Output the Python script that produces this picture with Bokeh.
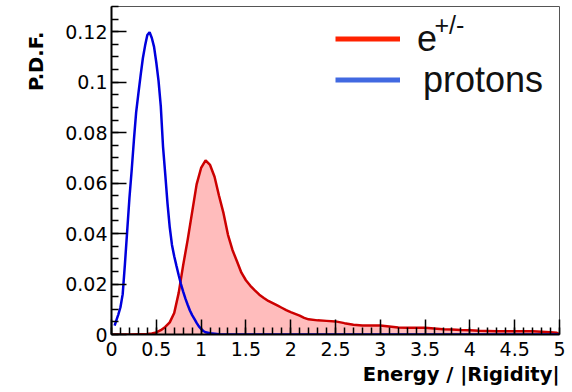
import math

from bokeh.plotting import figure
from bokeh.models import (Legend, LegendItem, Label, Title, FixedTicker,
                          CustomJSTickFormatter, Range1d)
from bokeh.embed import file_html
from bokeh.resources import INLINE

# Proton energy/|rigidity| distribution
proton_x = [0.035, 0.05, 0.075, 0.1, 0.125, 0.15, 0.175, 0.2, 0.225, 0.25,
            0.275, 0.3, 0.325, 0.35, 0.375, 0.4, 0.425, 0.45, 0.475, 0.5,
            0.525, 0.55, 0.575, 0.6, 0.625, 0.65, 0.675, 0.7, 0.725, 0.75,
            0.775, 0.8, 0.825, 0.85, 0.875, 0.9, 0.925, 0.95, 0.975, 1.0,
            1.025, 1.05, 1.1, 1.15, 1.2, 1.3, 2.0, 3.0, 4.0, 5.0]
proton_pdf = [0.0035, 0.0052, 0.0078, 0.0108, 0.016, 0.028, 0.041, 0.054, 0.065, 0.077,
              0.088, 0.0955, 0.1027, 0.1095, 0.1145, 0.1187, 0.1198, 0.1175, 0.114, 0.1078,
              0.1005, 0.0905, 0.0745, 0.0635, 0.052, 0.0425, 0.0355, 0.031, 0.0272, 0.0235,
              0.02, 0.017, 0.0142, 0.0118, 0.0095, 0.0077, 0.0062, 0.0046, 0.0032, 0.0022,
              0.0014, 0.0009, 0.0005, 0.0003, 0.0001, 0.0, 0.0, 0.0, 0.0, 0.0]

# Electron/positron energy/|rigidity| distribution
lepton_x = [0.0, 0.1, 0.2, 0.3, 0.4, 0.45, 0.5, 0.55, 0.6, 0.65,
            0.7, 0.75, 0.8, 0.85, 0.9, 0.95, 1.0, 1.05, 1.1, 1.15,
            1.2, 1.25, 1.3, 1.35, 1.4, 1.45, 1.5, 1.55, 1.6, 1.65,
            1.7, 1.75, 1.8, 1.85, 1.9, 1.95, 2.0, 2.05, 2.1, 2.15,
            2.2, 2.3, 2.4, 2.5, 2.6, 2.7, 2.8, 2.9, 3.0, 3.1,
            3.2, 3.3, 3.4, 3.5, 3.6, 3.7, 3.8, 3.9, 4.0, 4.1,
            4.2, 4.3, 4.5, 4.7, 4.8, 4.9, 4.97, 5.0]
lepton_pdf = [0.0, 0.0, 0.0, 0.0001, 0.0002, 0.0004, 0.0008, 0.0017, 0.003, 0.0048,
              0.0085, 0.0165, 0.0275, 0.0375, 0.0485, 0.0595, 0.066, 0.069, 0.0672, 0.0625,
              0.055, 0.0481, 0.0395, 0.0335, 0.029, 0.0245, 0.0215, 0.0193, 0.0175, 0.0158,
              0.0145, 0.0133, 0.0124, 0.0115, 0.0106, 0.0097, 0.0089, 0.0082, 0.0075, 0.0066,
              0.006, 0.0056, 0.0054, 0.0052, 0.0045, 0.0039, 0.0036, 0.0036, 0.0036, 0.0032,
              0.0028, 0.0027, 0.0027, 0.0027, 0.0024, 0.0021, 0.002, 0.0018, 0.0017, 0.0015,
              0.0014, 0.0013, 0.0013, 0.0013, 0.0011, 0.0009, 0.0007, 0.0]

# Axis ticks and their labels
x_ticks = [0, 0.5, 1, 1.5, 2, 2.5, 3, 3.5, 4, 4.5, 5]
x_tick_labels = ["0", "0.5", "1", "1.5", "2", "2.5", "3", "3.5", "4", "4.5", "5"]
y_ticks = [0, 0.02, 0.04, 0.06, 0.08, 0.1, 0.12]
y_tick_labels = ["0", "0.02", "0.04", "0.06", "0.08", "0.1", "0.12"]
x_minor = [round(i * 0.1, 1) for i in range(51)]
y_minor = [round(i * 0.005, 3) for i in range(27)]

legend_labels = ["e", "protons"]
x_title = "Energy / |Rigidity|"
y_title = "P.D.F."

p = figure(width=572, height=392,
           x_range=Range1d(0, 5), y_range=Range1d(0, 0.13),
           output_backend="svg", toolbar_location=None,
           min_border_left=111, min_border_right=13,
           min_border_top=6, min_border_bottom=58)
p.grid.visible = False
p.background_fill_color = "white"
p.border_fill_color = "white"
p.outline_line_color = "#555555"
p.outline_line_width = 1

# e+/- distribution: shaded area with an outline
p.varea(x=lepton_x, y1=0, y2=lepton_pdf, fill_color="#ffbcbc", fill_alpha=1.0)
p.line(lepton_x, lepton_pdf, line_color="#cc0000", line_width=2.5)
# protons
p.line(proton_x, proton_pdf, line_color="#0000dd", line_width=2.5)

tick_fmt = CustomJSTickFormatter(code="return Number(tick.toFixed(3)).toString();")

xa = p.xaxis[0]
ya = p.yaxis[0]
xa.ticker = FixedTicker(ticks=x_ticks, minor_ticks=x_minor)
ya.ticker = FixedTicker(ticks=y_ticks, minor_ticks=y_minor)
xa.formatter = tick_fmt
ya.formatter = tick_fmt
xa.major_label_overrides = dict(zip(x_ticks, x_tick_labels))
ya.major_label_overrides = dict(zip(y_ticks, y_tick_labels))

for ax in (xa, ya):
    ax.axis_line_color = "black"
    ax.axis_line_width = 2
    ax.major_tick_in = 15
    ax.major_tick_out = 0
    ax.minor_tick_in = 7
    ax.minor_tick_out = 0
    ax.major_tick_line_color = "black"
    ax.minor_tick_line_color = "black"
    ax.major_tick_line_width = 1.5
    ax.minor_tick_line_width = 1.5
    ax.major_label_text_font = "DejaVu Sans"
    ax.major_label_text_font_size = "19px"
    ax.major_label_text_color = "black"
ya.major_label_standoff = 4
xa.major_label_standoff = 7

# Legend swatches: hidden copies of the curves, styled as the key lines
r_e = p.line(lepton_x, lepton_pdf, line_color="#ff2200", line_width=5, visible=False)
r_p = p.line(proton_x, proton_pdf, line_color="#4169e1", line_width=5, visible=False)

legend_style = dict(glyph_width=65, glyph_height=41, label_height=41,
                    spacing=0, padding=0, margin=0,
                    label_text_font="Liberation Sans", label_text_font_size="36px",
                    label_text_color="#111111", inactive_fill_alpha=0,
                    click_policy="none", border_line_alpha=0, background_fill_alpha=0)
p.add_layout(Legend(items=[LegendItem(label=legend_labels[0], renderers=[r_e])],
                    location=(224, 274.5), label_standoff=17, **legend_style))
p.add_layout(Legend(items=[LegendItem(label=legend_labels[1], renderers=[r_p])],
                    location=(224, 233.5), label_standoff=23, **legend_style))

p.add_layout(Label(x=323, y=310, x_units="screen", y_units="screen",
                   text="+/-", text_font="Liberation Sans", text_font_size="25px",
                   text_align="left", text_baseline="alphabetic", text_color="#111111"))

# Axis titles, right-aligned at the end of each axis
p.add_layout(Title(text=y_title, align="right", offset=25, standoff=30,
                   text_font="DejaVu Sans", text_font_style="bold",
                   text_font_size="19.5px", text_color="black"), "left")
p.add_layout(Title(text=x_title, align="right", standoff=5,
                   text_font="DejaVu Sans", text_font_style="bold",
                   text_font_size="19.5px", text_color="black"), "below")

open("out.html", "w").write(file_html(p, INLINE))
